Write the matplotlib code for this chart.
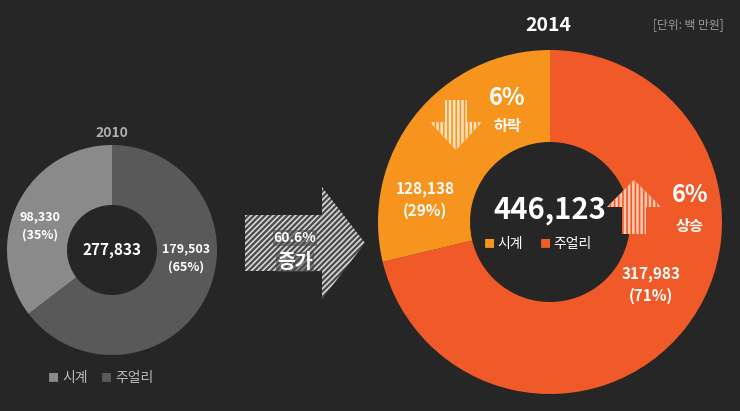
import matplotlib
matplotlib.use("Agg")
import matplotlib.pyplot as plt
from matplotlib.patches import Polygon

plt.rcParams['font.family'] = ['Noto Sans CJK KR', 'DejaVu Sans']
plt.rcParams['hatch.linewidth'] = 1.2

categories = ['주얼리', '시계']
values_2010 = [179503, 98330]
values_2014 = [317983, 128138]
total_2010 = 277833
total_2014 = 446123
pct_2010 = ['65%', '35%']
pct_2014 = ['71%', '29%']
colors_2010 = ['#595959', '#8a8a8a']
colors_2014 = ['#f05a28', '#f7941d']
growth = '60.6%'

H = 411
fig = plt.figure(figsize=(7.4, 4.11), dpi=100)
fig.patch.set_facecolor('#262626')
ax = fig.add_axes([0, 0, 1, 1])
ax.axis('off')

def Y(py): return H - py

ax.pie(values_2010, colors=colors_2010, startangle=90, counterclock=False,
       center=(112, Y(250)), radius=105, wedgeprops=dict(width=60, linewidth=0))
ax.pie(values_2014, colors=colors_2014, startangle=90, counterclock=False,
       center=(550, Y(222)), radius=172, wedgeprops=dict(width=92, linewidth=0))
ax.set_xlim(0, 740); ax.set_ylim(0, H); ax.set_aspect('equal')

ax.text(112, Y(133), '2010', color='#b0b0b0', fontsize=10, ha='center', va='center', weight='bold')
ax.text(112, Y(250), f'{total_2010:,}', color='white', fontsize=11, ha='center', va='center', weight='bold')
ax.text(40, Y(226), f'{values_2010[1]:,}\n({pct_2010[1]})', color='white', fontsize=9, ha='center', va='center', weight='bold', linespacing=1.5)
ax.text(186, Y(258), f'{values_2010[0]:,}\n({pct_2010[0]})', color='white', fontsize=9, ha='center', va='center', weight='bold', linespacing=1.5)
ax.text(48, Y(378), '■', color=colors_2010[1], fontsize=8, ha='left', va='center')
ax.text(62, Y(378), categories[1], color='#bbbbbb', fontsize=10, ha='left', va='center')
ax.text(101, Y(378), '■', color=colors_2010[0], fontsize=8, ha='left', va='center')
ax.text(115, Y(378), categories[0], color='#bbbbbb', fontsize=10, ha='left', va='center')

ax.add_patch(Polygon([(245, Y(215)), (322, Y(215)), (322, Y(187)), (365, Y(243)),
                      (322, Y(299)), (322, Y(271)), (245, Y(271))],
                     closed=True, facecolor='#4a4a4a', edgecolor='#d8d8d8', hatch='//////', linewidth=0))
ax.text(295, Y(238), growth, color='white', fontsize=10, ha='center', va='center', weight='bold',
        bbox=dict(facecolor='#4a4a4a', edgecolor='none', pad=0.5, alpha=0.6))
ax.text(295, Y(262), '증가', color='white', fontsize=14, ha='center', va='center', weight='bold',
        bbox=dict(facecolor='#4a4a4a', edgecolor='none', pad=0.5, alpha=0.6))

ax.text(548, Y(25), '2014', color='white', fontsize=14, ha='center', va='center', weight='bold')
ax.text(688, Y(25), '[단위: 백 만원]', color='#999999', fontsize=8.5, ha='center', va='center')
ax.text(550, Y(210), f'{total_2014:,}', color='white', fontsize=21, ha='center', va='center', weight='bold')
ax.text(484, Y(244), '■', color=colors_2014[1], fontsize=8, ha='left', va='center')
ax.text(497, Y(244), categories[1], color='white', fontsize=10, ha='left', va='center')
ax.text(540, Y(244), '■', color=colors_2014[0], fontsize=8, ha='left', va='center')
ax.text(553, Y(244), categories[0], color='white', fontsize=10, ha='left', va='center')
ax.text(425, Y(200), f'{values_2014[1]:,}\n({pct_2014[1]})', color='white', fontsize=11, ha='center', va='center', weight='bold', linespacing=1.5)
ax.text(651, Y(285), f'{values_2014[0]:,}\n({pct_2014[0]})', color='white', fontsize=11, ha='center', va='center', weight='bold', linespacing=1.5)

ax.add_patch(Polygon([(445, Y(100)), (467, Y(100)), (467, Y(122)), (482, Y(122)),
                      (456, Y(150)), (430, Y(122)), (445, Y(122))],
                     closed=True, facecolor='#fde3c0', edgecolor=colors_2014[1], hatch='||||', linewidth=0))
ax.text(507, Y(98), '6%', color='white', fontsize=17, ha='center', va='center', weight='bold')
ax.text(507, Y(126), '하락', color='white', fontsize=11, ha='center', va='center', weight='bold')
ax.add_patch(Polygon([(634, Y(180)), (661, Y(207)), (646, Y(207)), (646, Y(234)),
                      (622, Y(234)), (622, Y(207)), (607, Y(207))],
                     closed=True, facecolor='#fcc9b0', edgecolor=colors_2014[0], hatch='||||', linewidth=0))
ax.text(690, Y(195), '6%', color='white', fontsize=17, ha='center', va='center', weight='bold')
ax.text(690, Y(226), '상승', color='white', fontsize=11, ha='center', va='center', weight='bold')

fig.savefig('out.png', dpi=100, facecolor=fig.get_facecolor())
